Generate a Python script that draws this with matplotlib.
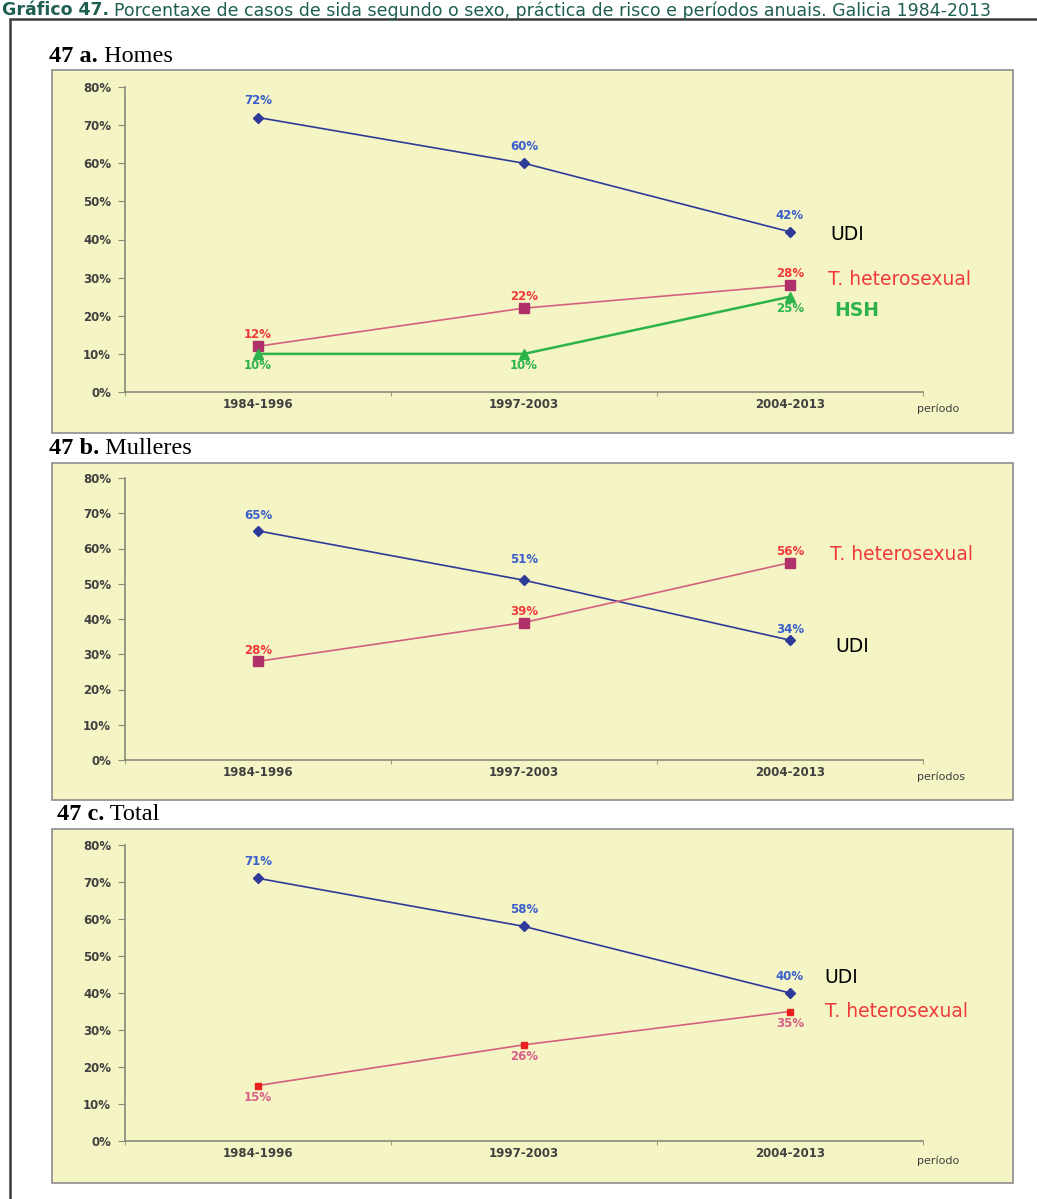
import matplotlib
matplotlib.use("Agg")
import matplotlib.pyplot as plt
from matplotlib.patches import Rectangle
from matplotlib.ticker import FixedLocator, NullFormatter

periods = ["1984-1996", "1997-2003", "2004-2013"]
yticks = [0, 10, 20, 30, 40, 50, 60, 70, 80]

homes_udi = [72, 60, 42]
homes_het = [12, 22, 28]
homes_hsh = [10, 10, 25]

mulleres_udi = [65, 51, 34]
mulleres_het = [28, 39, 56]

total_udi = [71, 58, 40]
total_het = [15, 26, 35]

W, H = 1037, 1199
fig = plt.figure(figsize=(W / 100, H / 100), dpi=100)
fig.patch.set_facecolor("white")

BG = "#F5F4C4"
BLUE_LINE = "#2E3A98"
BLUE_TXT = "#3A5FCD"
PINK_LINE = "#D4607E"
MAROON = "#B0306A"
RED_TXT = "#F03A3A"
GREEN = "#2DB34A"
AXC = "#8A8A78"
TICKC = "#404040"
HEAD = "#1E5E52"


def fx(px):
    return px / W


def fy(py):
    return 1 - py / H


# header line
hs = 12.5
h1 = fig.text(fx(2), fy(1), "Gráfico 47.", fontsize=hs, fontweight="bold",
              color=HEAD, va="top", ha="left", family="DejaVu Sans")
fig.canvas.draw()
bb = h1.get_window_extent()
fig.text((bb.x1 + 5) / W, fy(1),
         "Porcentaxe de casos de sida segundo o sexo, práctica de risco e períodos anuais. Galicia 1984-2013",
         fontsize=hs, color=HEAD, va="top", ha="left", family="DejaVu Sans")

# outer frame
fig.add_artist(Rectangle((fx(10), fy(1220)), fx(1040), fy(19) - fy(1220),
                         transform=fig.transFigure, facecolor="none",
                         edgecolor="#3C3C3C", linewidth=1.8))

panels = [
    dict(title_b="47 a.", title_r=" Homes", tx=49, ty=57, box=(52, 70, 1013, 433),
         y0=392, y80=87, xlabel="período", xl_y=409),
    dict(title_b="47 b.", title_r=" Mulleres", tx=49, ty=449, box=(52, 463, 1013, 800),
         y0=760, y80=478, xlabel="períodos", xl_y=777),
    dict(title_b="47 c.", title_r=" Total", tx=57, ty=815, box=(52, 829, 1013, 1183),
         y0=1141, y80=845, xlabel="período", xl_y=1161),
]

axes = []
for p in panels:
    x0, yt, x1, yb = p["box"]
    fig.add_artist(Rectangle((fx(x0), fy(yb)), fx(x1 - x0), fy(yt) - fy(yb),
                             transform=fig.transFigure, facecolor=BG,
                             edgecolor="#8C8C8C", linewidth=1.2, zorder=0))
    t = fig.text(fx(p["tx"]), fy(p["ty"]), p["title_b"], fontsize=17.5, fontweight="bold",
                 family="Liberation Serif", va="center", ha="left")
    fig.canvas.draw()
    bb = t.get_window_extent()
    fig.text(bb.x1 / W, fy(p["ty"]), p["title_r"], fontsize=17.5,
             family="Liberation Serif", va="center", ha="left")

    bottom = fy(p["y0"])
    height = fy(p["y80"]) - bottom
    ax = fig.add_axes([fx(125), bottom, fx(923 - 125), height])
    ax.set_facecolor("none")
    ax.set_xlim(-0.5, 2.5)
    ax.set_ylim(0, 80)
    for s in ["top", "right"]:
        ax.spines[s].set_visible(False)
    for s in ["left", "bottom"]:
        ax.spines[s].set_color(AXC)
        ax.spines[s].set_linewidth(1.2)
    ax.set_yticks(yticks)
    ax.set_yticklabels([f"{v}%" for v in yticks])
    ax.set_xticks(range(len(periods)))
    ax.set_xticklabels(periods)
    ax.xaxis.set_minor_locator(FixedLocator([-0.5, 0.5, 1.5, 2.5]))
    ax.xaxis.set_minor_formatter(NullFormatter())
    ax.tick_params(axis="x", which="major", length=0, pad=4, labelsize=8.5,
                   labelcolor=TICKC)
    ax.tick_params(axis="x", which="minor", length=3, color=AXC, direction="out")
    ax.tick_params(axis="y", length=5, color=AXC, labelsize=8.5, labelcolor=TICKC, pad=5)
    for lab in ax.get_xticklabels() + ax.get_yticklabels():
        lab.set_fontweight("bold")
    scale = (p["y0"] - p["y80"]) / 80.0
    ax.text((917 - 125) / 266 - 0.5, (p["y0"] - p["xl_y"]) / scale, p["xlabel"],
            fontsize=8, color=TICKC, ha="left", va="center")
    axes.append(ax)

x = list(range(len(periods)))
VFS = 8.5
LFS = 13.5


def labels(ax, vals, color, dys):
    if not isinstance(dys, (list, tuple)):
        dys = [dys] * len(vals)
    for xi, v, dy in zip(x, vals, dys):
        ax.annotate(f"{v}%", (xi, v), xytext=(0, dy), textcoords="offset points",
                    ha="center", va="center", fontsize=VFS, fontweight="bold", color=color)


# Panel a: Homes
ax = axes[0]
ax.plot(x, homes_udi, color=BLUE_LINE, lw=1.2, marker="D", ms=5, mfc=BLUE_LINE, mec=BLUE_LINE)
ax.plot(x, homes_het, color=PINK_LINE, lw=1.2, marker="s", ms=6.5, mfc=MAROON, mec=MAROON)
ax.plot(x, homes_hsh, color=GREEN, lw=1.8, marker="^", ms=6.5, mfc=GREEN, mec=GREEN)
labels(ax, homes_udi, BLUE_TXT, 12)
labels(ax, homes_het, RED_TXT, 8.5)
labels(ax, homes_hsh, GREEN, -8.5)
ax.text(2.15, 41.2, "UDI", fontsize=LFS, color="black", ha="left", va="center")
ax.text(2.143, 29.4, "T. heterosexual", fontsize=LFS, color=RED_TXT, ha="left", va="center")
ax.text(2.165, 21.5, "HSH", fontsize=LFS, color=GREEN, ha="left", va="center",
        fontweight="bold")

# Panel b: Mulleres
ax = axes[1]
ax.plot(x, mulleres_udi, color=BLUE_LINE, lw=1.2, marker="D", ms=5, mfc=BLUE_LINE, mec=BLUE_LINE)
ax.plot(x, mulleres_het, color=PINK_LINE, lw=1.2, marker="s", ms=6.5, mfc=MAROON, mec=MAROON)
labels(ax, mulleres_udi, BLUE_TXT, [11, 15, 7.5])
labels(ax, mulleres_het, RED_TXT, 8)
ax.text(2.15, 58.4, "T. heterosexual", fontsize=LFS, color=RED_TXT, ha="left", va="center")
ax.text(2.17, 32.1, "UDI", fontsize=LFS, color="black", ha="left", va="center")

# Panel c: Total
ax = axes[2]
ax.plot(x, total_udi, color=BLUE_LINE, lw=1.2, marker="D", ms=5, mfc=BLUE_LINE, mec=BLUE_LINE)
ax.plot(x, total_het, color=PINK_LINE, lw=1.2, marker="s", ms=4.5, mfc="#E82020", mec="#E82020")
labels(ax, total_udi, BLUE_TXT, 12)
labels(ax, total_het, "#D86088", -8.5)
ax.text(2.13, 44.3, "UDI", fontsize=LFS, color="black", ha="left", va="center")
ax.text(2.13, 34.9, "T. heterosexual", fontsize=LFS, color=RED_TXT, ha="left", va="center")

fig.savefig("out.png", dpi=100, facecolor="white")
